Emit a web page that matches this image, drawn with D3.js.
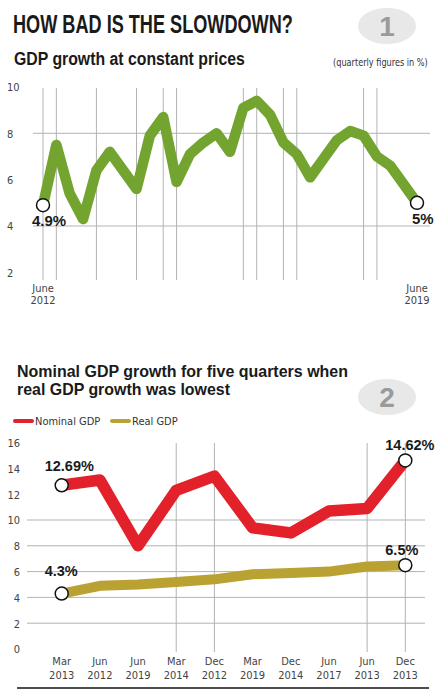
<!DOCTYPE html>
<html>
<head>
<meta charset="utf-8">
<script src="https://cdn.jsdelivr.net/npm/d3@7"></script>
<style>
  html, body { margin: 0; padding: 0; background: #fff; }
  svg { display: block; }
  .tick-lbl { font-family: "Liberation Sans Narrow", "DejaVu Sans Condensed", "Liberation Sans", sans-serif; font-size: 11px; fill: #444; }
  .bold { font-family: "Liberation Sans", "Open Sans", sans-serif; font-weight: bold; fill: #1a1a1a; }
</style>
</head>
<body>
<svg id="chart" width="447" height="699"></svg>
<script>
// ---------- Chart 1 data: GDP growth at constant prices (quarterly, %) June 2012 .. June 2019
const gdpGrowth = [4.9, 7.5, 5.4, 4.3, 6.4, 7.2, 6.4, 5.6, 7.9, 8.7,
                   5.9, 7.1, 7.6, 8.0, 7.2, 9.1, 9.4, 8.8, 7.6, 7.1,
                   6.1, 6.9, 7.7, 8.1, 7.9, 7.0, 6.6, 5.8, 5.0];
const chart1YTicks = [2, 4, 6, 8, 10];
const chart1GridY = [4, 8];
const chart1GridQuarters = [0, 1, 4, 7, 9, 10, 15, 16, 18, 19, 24, 25];
const chart1XLabels = [["June", "2012"], ["June", "2019"]];
const chart1EndLabels = ["4.9%", "5%"];

// ---------- Chart 2 data: nominal vs real GDP growth
const quarters2 = [["Mar","2013"],["Jun","2012"],["Jun","2019"],["Mar","2014"],["Dec","2012"],
                   ["Mar","2019"],["Dec","2014"],["Jun","2017"],["Jun","2013"],["Dec","2013"]];
const nominalGDP = [12.69, 13.1, 8.0, 12.3, 13.4, 9.4, 9.0, 10.7, 10.9, 14.62];
const realGDP    = [4.3, 4.9, 5.0, 5.2, 5.4, 5.8, 5.9, 6.0, 6.4, 6.5];
const chart2YTicks = [0, 2, 4, 6, 8, 10, 12, 14, 16];
const chart2GridY = [2, 4, 6, 8, 10];
const chart2GridX = [3, 4, 8, 9];
const seriesNames = ["Nominal GDP", "Real GDP"];
const nominalLabels = ["12.69%", "14.62%"];
const realLabels = ["4.3%", "6.5%"];

const GREEN = "#72a42f", RED = "#e3212a", OLIVE = "#b9a232", GRID = "#b3b3b3";

const svg = d3.select("#chart");

// text squeezed horizontally to a target width (condensed look)
function fitText(parent, cls, size, x, y, width, str, fill) {
  const t = parent.append("text").attr("class", cls).attr("font-size", size).text(str);
  if (fill) t.style("fill", fill);
  const w = t.node().getComputedTextLength();
  t.attr("transform", `translate(${x},${y}) scale(${Math.min(1, width / w)},1)`);
  return t;
}

// ---------- Headers
fitText(svg, "bold", 25, 13, 33, 280, "HOW BAD IS THE SLOWDOWN?");
fitText(svg, "bold", 18.5, 14, 65, 231, "GDP growth at constant prices");
fitText(svg, "tick-lbl", 11, 333, 66, 95, "(quarterly figures in %)", "#333");

function badge(cx, cy, label) {
  svg.append("ellipse").attr("cx", cx).attr("cy", cy).attr("rx", 29).attr("ry", 18).attr("fill", "#e8e8e8");
  svg.append("text").attr("x", cx).attr("y", cy + 10).attr("text-anchor", "middle")
    .attr("font-family", "Liberation Sans, sans-serif").attr("font-weight", "bold")
    .attr("font-size", 28).attr("fill", "#9a9a9a").text(label);
}
badge(387, 26, "1");
badge(387, 397, "2");

// ---------- Chart 1
const x1 = d3.scaleLinear().domain([0, gdpGrowth.length - 1]).range([43, 417]);
const y1 = d3.scaleLinear().domain([4, 8]).range([226, 133.3]);
const g1 = svg.append("g");

g1.selectAll("line.hg").data(chart1GridY).join("line")
  .attr("x1", 33).attr("x2", 430).attr("y1", d => y1(d)).attr("y2", d => y1(d))
  .attr("stroke", GRID).attr("stroke-width", 1);
g1.selectAll("line.vg").data(chart1GridQuarters).join("line")
  .attr("x1", d => x1(d)).attr("x2", d => x1(d)).attr("y1", 88).attr("y2", 280)
  .attr("stroke", GRID).attr("stroke-width", 1);

const y1Axis = d3.axisLeft(y1).tickValues(chart1YTicks).tickSize(0).tickFormat(d3.format("d"));
const ax1 = g1.append("g").attr("transform", "translate(7,0)").call(y1Axis);
ax1.select(".domain").remove();
ax1.selectAll("text").attr("class", "tick-lbl").attr("text-anchor", "start").attr("x", 0).attr("dy", "0.35em");

g1.append("path").datum(gdpGrowth)
  .attr("fill", "none").attr("stroke", GREEN).attr("stroke-width", 10.5)
  .attr("stroke-linejoin", "round").attr("stroke-linecap", "butt")
  .attr("d", d3.line().x((d, i) => x1(i)).y(d => y1(d)));

const ends1 = [0, gdpGrowth.length - 1];
g1.selectAll("circle.end").data(ends1).join("circle")
  .attr("cx", d => x1(d)).attr("cy", d => y1(gdpGrowth[d])).attr("r", 6.5)
  .attr("fill", "#fff").attr("stroke", "#111").attr("stroke-width", 1.5);
g1.selectAll("text.endlbl").data(ends1).join("text")
  .attr("class", "bold").attr("font-size", 15)
  .attr("x", (d, i) => i === 0 ? x1(d) - 11 : x1(d) - 5)
  .attr("y", d => y1(gdpGrowth[d]) + 21)
  .text((d, i) => chart1EndLabels[i]);

g1.selectAll("text.xl").data(ends1).join("text")
  .attr("class", "tick-lbl").attr("text-anchor", "middle")
  .attr("x", d => x1(d)).attr("y", 292)
  .each(function (d, i) {
    const t = d3.select(this);
    t.append("tspan").attr("x", x1(d)).text(chart1XLabels[i][0]);
    t.append("tspan").attr("x", x1(d)).attr("dy", 12).text(chart1XLabels[i][1]);
  });

// ---------- Chart 2 header & legend
fitText(svg, "bold", 17, 17, 377, 331, "Nominal GDP growth for five quarters when");
fitText(svg, "bold", 17, 17, 395, 213, "real GDP growth was lowest");

const legendColors = [RED, OLIVE];
const legendX = [15, 112];
const lg = svg.append("g").selectAll("g").data(seriesNames).join("g")
  .attr("transform", (d, i) => `translate(${legendX[i]},421)`);
lg.append("line").attr("x1", 0).attr("x2", 17).attr("stroke", (d, i) => legendColors[i])
  .attr("stroke-width", 4).attr("stroke-linecap", "round");
lg.append("text").attr("class", "tick-lbl").attr("x", 20).attr("y", 4).style("fill", "#333").text(d => d);

// ---------- Chart 2
const x2 = d3.scalePoint().domain(d3.range(quarters2.length)).range([61.7, 405.3]);
const y2 = d3.scaleLinear().domain([0, 10]).range([649, 520]);
const g2 = svg.append("g");

g2.selectAll("line.hg").data(chart2GridY).join("line")
  .attr("x1", 27).attr("x2", 425).attr("y1", d => y2(d)).attr("y2", d => y2(d))
  .attr("stroke", GRID).attr("stroke-width", 1);
g2.selectAll("line.vg").data(chart2GridX).join("line")
  .attr("x1", d => x2(d)).attr("x2", d => x2(d)).attr("y1", 443).attr("y2", 652)
  .attr("stroke", GRID).attr("stroke-width", 1);

const y2Axis = d3.axisLeft(y2).tickValues(chart2YTicks).tickSize(0).tickFormat(d3.format("d"));
const ax2 = g2.append("g").attr("transform", "translate(20,0)").call(y2Axis);
ax2.select(".domain").remove();
ax2.selectAll("text").attr("class", "tick-lbl").attr("text-anchor", "end").attr("x", 0).attr("dy", "0.35em");

const line2 = d3.line().x((d, i) => x2(i)).y(d => y2(d));
g2.append("path").datum(realGDP).attr("fill", "none").attr("stroke", OLIVE)
  .attr("stroke-width", 10).attr("stroke-linejoin", "round").attr("d", line2);
g2.append("path").datum(nominalGDP).attr("fill", "none").attr("stroke", RED)
  .attr("stroke-width", 11.5).attr("stroke-linejoin", "round").attr("d", line2);

const ends2 = [0, quarters2.length - 1];
[[nominalGDP, nominalLabels, 14], [realGDP, realLabels, 18]].forEach(([series, labels, off]) => {
  g2.selectAll(null).data(ends2).join("circle")
    .attr("cx", d => x2(d)).attr("cy", d => y2(series[d])).attr("r", 6.5)
    .attr("fill", "#fff").attr("stroke", "#111").attr("stroke-width", 1.5);
  g2.selectAll(null).data(ends2).join("text")
    .attr("class", "bold").attr("font-size", 14.5)
    .attr("x", (d, i) => i === 0 ? x2(d) - 17 : x2(d) - 20)
    .attr("y", (d, i) => y2(series[d]) - (i === 0 ? off : 10))
    .text((d, i) => labels[i]);
});

g2.selectAll("text.xl").data(quarters2).join("text")
  .attr("class", "tick-lbl").attr("text-anchor", "middle")
  .each(function (d, i) {
    const t = d3.select(this);
    t.append("tspan").attr("x", x2(i)).attr("y", 665).text(d[0]);
    t.append("tspan").attr("x", x2(i)).attr("y", 679).text(d[1]);
  });

svg.append("line").attr("x1", 17).attr("x2", 429).attr("y1", 688).attr("y2", 688)
  .attr("stroke", "#111").attr("stroke-width", 1.5);
</script>
</body>
</html>
